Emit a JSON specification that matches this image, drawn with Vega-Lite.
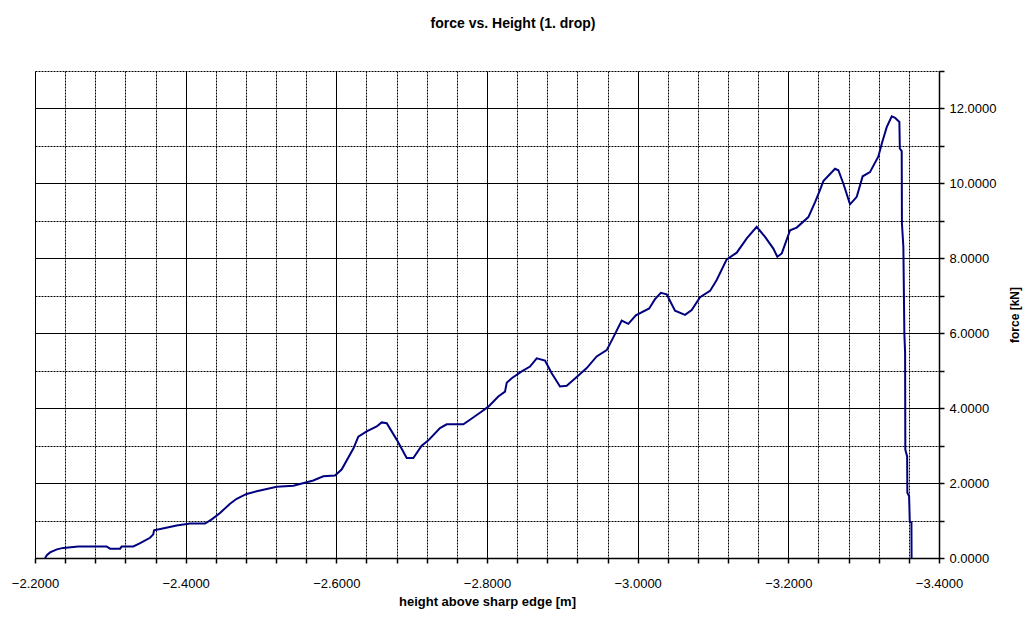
{
  "$schema": "https://vega.github.io/schema/vega-lite/v6.json",
  "autosize": {"type": "none"},
  "width": 904,
  "height": 487,
  "padding": {"left": 35, "top": 71, "right": 87, "bottom": 61},
  "background": "white",
  "view": {"stroke": null},
  "title": {
    "text": "force vs. Height (1. drop)",
    "font": "Liberation Sans",
    "fontSize": 14,
    "fontWeight": "bold",
    "color": "#000",
    "anchor": "middle",
    "baseline": "bottom",
    "offset": 20,
    "dx": 26
  },
  "data": {
    "values": [
      {"h": -2.2133, "f": 0.00},
      {"h": -2.2160, "f": 0.08},
      {"h": -2.2200, "f": 0.15},
      {"h": -2.2290, "f": 0.23},
      {"h": -2.2376, "f": 0.27},
      {"h": -2.2575, "f": 0.31},
      {"h": -2.2950, "f": 0.31},
      {"h": -2.2996, "f": 0.25},
      {"h": -2.3130, "f": 0.25},
      {"h": -2.3150, "f": 0.31},
      {"h": -2.3305, "f": 0.31},
      {"h": -2.3390, "f": 0.39},
      {"h": -2.3527, "f": 0.54},
      {"h": -2.3570, "f": 0.63},
      {"h": -2.3580, "f": 0.74},
      {"h": -2.3726, "f": 0.80},
      {"h": -2.3880, "f": 0.87},
      {"h": -2.4058, "f": 0.92},
      {"h": -2.4257, "f": 0.92},
      {"h": -2.4346, "f": 1.03},
      {"h": -2.4456, "f": 1.20},
      {"h": -2.4589, "f": 1.45},
      {"h": -2.4677, "f": 1.58},
      {"h": -2.4810, "f": 1.71},
      {"h": -2.4943, "f": 1.78},
      {"h": -2.5209, "f": 1.90},
      {"h": -2.5430, "f": 1.93},
      {"h": -2.5694, "f": 2.07},
      {"h": -2.5827, "f": 2.18},
      {"h": -2.5982, "f": 2.20},
      {"h": -2.6070, "f": 2.36},
      {"h": -2.6226, "f": 2.92},
      {"h": -2.6292, "f": 3.24},
      {"h": -2.6403, "f": 3.38},
      {"h": -2.6536, "f": 3.51},
      {"h": -2.6602, "f": 3.62},
      {"h": -2.6669, "f": 3.60},
      {"h": -2.6801, "f": 3.16},
      {"h": -2.6934, "f": 2.67},
      {"h": -2.7022, "f": 2.67},
      {"h": -2.7133, "f": 3.00},
      {"h": -2.7222, "f": 3.14},
      {"h": -2.7376, "f": 3.47},
      {"h": -2.7465, "f": 3.57},
      {"h": -2.7686, "f": 3.57},
      {"h": -2.7774, "f": 3.69},
      {"h": -2.7930, "f": 3.91},
      {"h": -2.8018, "f": 4.04},
      {"h": -2.8150, "f": 4.31},
      {"h": -2.8239, "f": 4.44},
      {"h": -2.8262, "f": 4.68},
      {"h": -2.8328, "f": 4.80},
      {"h": -2.8461, "f": 4.98},
      {"h": -2.8571, "f": 5.11},
      {"h": -2.8660, "f": 5.33},
      {"h": -2.8770, "f": 5.27},
      {"h": -2.8859, "f": 4.93},
      {"h": -2.8969, "f": 4.58},
      {"h": -2.9058, "f": 4.60},
      {"h": -2.9191, "f": 4.83},
      {"h": -2.9324, "f": 5.07},
      {"h": -2.9456, "f": 5.38},
      {"h": -2.9589, "f": 5.55},
      {"h": -2.9677, "f": 5.89},
      {"h": -2.9788, "f": 6.34},
      {"h": -2.9876, "f": 6.25},
      {"h": -2.9976, "f": 6.48},
      {"h": -3.0153, "f": 6.66},
      {"h": -3.0230, "f": 6.91},
      {"h": -3.0308, "f": 7.08},
      {"h": -3.0385, "f": 7.04},
      {"h": -3.0496, "f": 6.60},
      {"h": -3.0629, "f": 6.49},
      {"h": -3.0717, "f": 6.62},
      {"h": -3.0828, "f": 6.96},
      {"h": -3.0961, "f": 7.13},
      {"h": -3.1049, "f": 7.42},
      {"h": -3.1182, "f": 7.97},
      {"h": -3.1315, "f": 8.15},
      {"h": -3.1448, "f": 8.53},
      {"h": -3.1580, "f": 8.84},
      {"h": -3.1691, "f": 8.57},
      {"h": -3.1801, "f": 8.26},
      {"h": -3.1854, "f": 8.04},
      {"h": -3.1913, "f": 8.13},
      {"h": -3.2023, "f": 8.75},
      {"h": -3.2111, "f": 8.82},
      {"h": -3.2266, "f": 9.10},
      {"h": -3.2355, "f": 9.50},
      {"h": -3.2421, "f": 9.83},
      {"h": -3.2465, "f": 10.06},
      {"h": -3.2620, "f": 10.39},
      {"h": -3.2664, "f": 10.35},
      {"h": -3.2731, "f": 9.99},
      {"h": -3.2819, "f": 9.44},
      {"h": -3.2908, "f": 9.64},
      {"h": -3.2987, "f": 10.19},
      {"h": -3.3084, "f": 10.30},
      {"h": -3.3195, "f": 10.72},
      {"h": -3.3240, "f": 11.06},
      {"h": -3.3306, "f": 11.50},
      {"h": -3.3373, "f": 11.79},
      {"h": -3.3417, "f": 11.75},
      {"h": -3.3474, "f": 11.64},
      {"h": -3.3480, "f": 10.93},
      {"h": -3.3505, "f": 10.86},
      {"h": -3.3508, "f": 8.93},
      {"h": -3.3527, "f": 8.31},
      {"h": -3.3540, "f": 6.00},
      {"h": -3.3550, "f": 5.47},
      {"h": -3.3553, "f": 2.89},
      {"h": -3.3577, "f": 2.71},
      {"h": -3.3580, "f": 1.74},
      {"h": -3.3603, "f": 1.65},
      {"h": -3.3612, "f": 0.98},
      {"h": -3.3634, "f": 0.94},
      {"h": -3.3636, "f": 0.00}
    ]
  },
  "mark": {"type": "line", "color": "#000080", "strokeWidth": 2, "clip": true},
  "encoding": {
    "order": {"value": null},
    "x": {
      "field": "h",
      "type": "quantitative",
      "scale": {"domain": [-3.4, -2.2], "reverse": true, "nice": false, "zero": false},
      "axis": {
        "values": [-2.2, -2.24, -2.28, -2.32, -2.36, -2.4, -2.44, -2.48, -2.52, -2.56, -2.6, -2.64, -2.68, -2.72, -2.76, -2.8, -2.84, -2.88, -2.92, -2.96, -3.0, -3.04, -3.08, -3.12, -3.16, -3.2, -3.24, -3.28, -3.32, -3.36, -3.4],
        "labelExpr": "abs(datum.value*5 - round(datum.value*5)) < 0.001 ? format(datum.value, '.4f') : ''",
        "labelOverlap": false,
        "labelFlush": false,
        "grid": true,
        "gridColor": "#000",
        "gridOpacity": 1,
        "gridWidth": 1,
        "gridDash": {"condition": {"test": "abs(datum.value*5 - round(datum.value*5)) < 0.001", "value": []}, "value": [2, 1]},
        "domainColor": "#000",
        "domainWidth": 1.5,
        "tickColor": "#000",
        "tickSize": 5,
        "tickWidth": 1.5,
        "labelFont": "Liberation Sans",
        "labelFontSize": 13,
        "labelColor": "#000",
        "labelPadding": 14,
        "title": "height above sharp edge [m]",
        "titleFont": "Liberation Sans",
        "titleFontSize": 13,
        "titleFontWeight": "bold",
        "titleColor": "#000",
        "titlePadding": 5
      }
    },
    "y": {
      "field": "f",
      "type": "quantitative",
      "scale": {"domain": [0, 13], "nice": false, "zero": true},
      "axis": {
        "orient": "right",
        "values": [0, 1, 2, 3, 4, 5, 6, 7, 8, 9, 10, 11, 12, 13],
        "labelExpr": "datum.value % 2 == 0 ? format(datum.value, '.4f') : ''",
        "labelOverlap": false,
        "labelFlush": false,
        "grid": true,
        "gridColor": "#000",
        "gridOpacity": 1,
        "gridWidth": 1,
        "gridDash": {"condition": {"test": "datum.value % 2 == 0", "value": []}, "value": [2, 1]},
        "domainColor": "#000",
        "domainWidth": 1.5,
        "tickColor": "#000",
        "tickSize": 5,
        "tickWidth": 1.5,
        "labelFont": "Liberation Sans",
        "labelFontSize": 13,
        "labelColor": "#000",
        "labelPadding": 5,
        "title": "force [kN]",
        "titleAngle": -90,
        "titleFont": "Liberation Sans",
        "titleFontSize": 12,
        "titleFontWeight": "bold",
        "titleColor": "#000",
        "titlePadding": 26
      }
    }
  }
}
